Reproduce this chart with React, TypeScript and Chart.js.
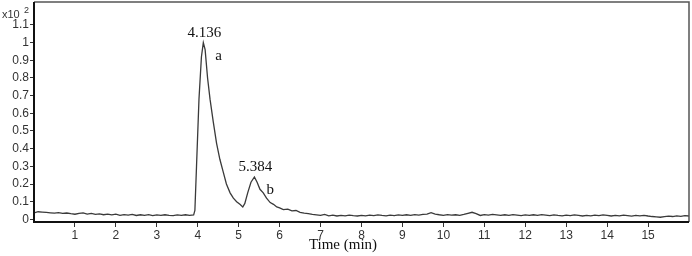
import React, { useEffect, useRef } from "react";
import { Chart, registerables } from "chart.js";

Chart.register(...registerables);

const time: number[] = [
  0.0, 0.1, 0.2, 0.3, 0.4, 0.5, 0.6, 0.7, 0.8, 0.9,
  1.0, 1.1, 1.2, 1.3, 1.4, 1.5, 1.6, 1.7, 1.8, 1.9,
  2.0, 2.1, 2.2, 2.3, 2.4, 2.5, 2.6, 2.7, 2.8, 2.9,
  3.0, 3.1, 3.2, 3.3, 3.4, 3.5, 3.6, 3.7, 3.8, 3.9,
  3.93, 3.97, 4.03, 4.09, 4.136, 4.18, 4.24, 4.3, 4.38, 4.46,
  4.54, 4.62, 4.7, 4.79, 4.87, 4.95, 5.03, 5.1, 5.15, 5.22,
  5.3, 5.384, 5.45, 5.52, 5.6, 5.68, 5.77, 5.85, 5.93, 6.0,
  6.09, 6.2, 6.3, 6.4, 6.5, 6.6, 6.7, 6.8, 6.9, 7.0,
  7.1, 7.2, 7.3, 7.4, 7.5, 7.6, 7.7, 7.8, 7.9, 8.0,
  8.1, 8.2, 8.3, 8.4, 8.5, 8.6, 8.7, 8.8, 8.9, 9.0,
  9.1, 9.2, 9.3, 9.4, 9.5, 9.6, 9.7, 9.8, 9.9, 10.0,
  10.1, 10.2, 10.3, 10.4, 10.5, 10.6, 10.7, 10.8, 10.9, 11.0,
  11.1, 11.2, 11.3, 11.4, 11.5, 11.6, 11.7, 11.8, 11.9, 12.0,
  12.1, 12.2, 12.3, 12.4, 12.5, 12.6, 12.7, 12.8, 12.9, 13.0,
  13.1, 13.2, 13.3, 13.4, 13.5, 13.6, 13.7, 13.8, 13.9, 14.0,
  14.1, 14.2, 14.3, 14.4, 14.5, 14.6, 14.7, 14.8, 14.9, 15.0,
  15.1, 15.2, 15.3, 15.4, 15.5, 15.6, 15.7, 15.8, 15.9, 16.0,
];

const intensity: number[] = [
  0.036, 0.043, 0.041, 0.039, 0.037, 0.035, 0.038, 0.034, 0.036, 0.032,
  0.029, 0.034, 0.037, 0.030, 0.034, 0.028, 0.031, 0.026, 0.030, 0.025,
  0.029, 0.023, 0.027, 0.024, 0.028, 0.022, 0.026, 0.023, 0.027, 0.021,
  0.025, 0.022, 0.026, 0.023, 0.021, 0.025, 0.022, 0.026, 0.023, 0.025,
  0.05, 0.30, 0.68, 0.92, 1.0, 0.96, 0.80, 0.68, 0.55, 0.43,
  0.34, 0.27, 0.20, 0.15, 0.12, 0.10, 0.085, 0.07, 0.09, 0.15,
  0.21, 0.24, 0.21, 0.17, 0.15, 0.12, 0.095, 0.085, 0.07, 0.065,
  0.055, 0.058, 0.048, 0.05, 0.04, 0.035, 0.032, 0.028, 0.025, 0.022,
  0.028, 0.02, 0.024, 0.019, 0.023, 0.02, 0.024, 0.021, 0.019, 0.023,
  0.02, 0.024, 0.021, 0.025, 0.022, 0.02, 0.024, 0.021, 0.025, 0.022,
  0.026, 0.023, 0.027, 0.024, 0.028, 0.03, 0.038, 0.03, 0.026, 0.023,
  0.027, 0.024, 0.026, 0.023, 0.028, 0.034, 0.04, 0.032, 0.022, 0.027,
  0.024, 0.028, 0.025, 0.022, 0.026, 0.023, 0.027, 0.024, 0.021, 0.025,
  0.022, 0.026, 0.023, 0.027, 0.024, 0.021, 0.025, 0.022, 0.02, 0.024,
  0.021, 0.025, 0.022, 0.019, 0.023, 0.02, 0.024, 0.021, 0.025, 0.022,
  0.019, 0.023, 0.02, 0.024, 0.021, 0.018, 0.022, 0.02, 0.023, 0.019,
  0.016, 0.014, 0.012, 0.015, 0.018, 0.016, 0.02, 0.017, 0.021, 0.019,
];

const xTicks: number[] = [1, 2, 3, 4, 5, 6, 7, 8, 9, 10, 11, 12, 13, 14, 15];
const yTicks: number[] = [0, 0.1, 0.2, 0.3, 0.4, 0.5, 0.6, 0.7, 0.8, 0.9, 1, 1.1];

const peakTimes: number[] = [4.136, 5.384];
const peakValues: number[] = [1.0, 0.24];
const peakRtLabels: string[] = ["4.136", "5.384"];
const peakLetters: string[] = ["a", "b"];

const xTitle = "Time (min)";

export default function App() {
  const ref = useRef<HTMLCanvasElement | null>(null);

  useEffect(() => {
    document.body.style.margin = "0";
    const canvas = ref.current;
    if (!canvas) return;

    const overlay = {
      id: "overlay",
      afterDraw(chart: any) {
        const { ctx, chartArea } = chart;
        const xs = chart.scales.x;
        const ys = chart.scales.y;
        ctx.save();
        // frame
        ctx.strokeStyle = "#555";
        ctx.lineWidth = 1.5;
        ctx.beginPath();
        ctx.moveTo(chartArea.left, chartArea.top);
        ctx.lineTo(chartArea.right, chartArea.top);
        ctx.lineTo(chartArea.right, chartArea.bottom);
        ctx.stroke();
        ctx.strokeStyle = "#111";
        ctx.lineWidth = 2;
        ctx.beginPath();
        ctx.moveTo(chartArea.left, chartArea.top);
        ctx.lineTo(chartArea.left, chartArea.bottom);
        ctx.lineTo(chartArea.right, chartArea.bottom);
        ctx.stroke();

        // multiplier label
        ctx.fillStyle = "#333";
        ctx.font = "11px 'Liberation Sans', Arial, sans-serif";
        ctx.textAlign = "left";
        ctx.textBaseline = "middle";
        ctx.fillText("x10", 2, 15);
        ctx.font = "9px 'Liberation Sans', Arial, sans-serif";
        ctx.fillText("2", 24, 11);

        // peak annotations
        ctx.fillStyle = "#111";
        ctx.font = "15px 'Liberation Serif', 'Times New Roman', serif";
        for (let i = 0; i < peakTimes.length; i++) {
          const px = xs.getPixelForValue(peakTimes[i]);
          const py = ys.getPixelForValue(peakValues[i]);
          ctx.textAlign = "center";
          ctx.fillText(peakRtLabels[i], px + 1, py - 10);
          ctx.textAlign = "left";
          ctx.fillText(peakLetters[i], px + 12, py + 13);
        }

        // x title
        ctx.textAlign = "center";
        ctx.font = "15px 'Liberation Serif', 'Times New Roman', serif";
        ctx.fillText(xTitle, 343, 245);
        ctx.restore();
      },
    };

    const chart = new Chart(canvas, {
      type: "line",
      data: {
        datasets: [
          {
            data: time.map((t, i) => ({ x: t, y: intensity[i] })),
            borderColor: "#3a3a3a",
            borderWidth: 1.3,
            pointRadius: 0,
            tension: 0,
            fill: false,
          },
        ],
      },
      options: {
        animation: false,
        responsive: false,
        maintainAspectRatio: false,
        layout: { padding: { top: 2, right: 3, left: 0, bottom: 0 } },
        plugins: {
          legend: { display: false },
          tooltip: { enabled: false },
        },
        scales: {
          x: {
            type: "linear",
            min: 0,
            max: 16,
            afterBuildTicks(scale: any) {
              scale.ticks = xTicks.map((v) => ({ value: v }));
            },
            afterFit(scale: any) {
              scale.height = 34;
              scale.paddingLeft = 0;
              scale.paddingRight = 0;
            },
            grid: {
              display: true,
              drawOnChartArea: false,
              drawTicks: true,
              tickLength: 5,
              color: "#333",
              lineWidth: 1,
            },
            border: { display: false },
            ticks: {
              color: "#333",
              font: { family: "'Liberation Sans', Arial, sans-serif", size: 12 },
              padding: 1,
              maxRotation: 0,
              autoSkip: false,
            },
          },
          y: {
            type: "linear",
            min: -0.015,
            max: 1.23,
            afterBuildTicks(scale: any) {
              scale.ticks = yTicks.map((v) => ({ value: v }));
            },
            afterFit(scale: any) {
              scale.width = 34;
              scale.paddingTop = 0;
              scale.paddingBottom = 0;
            },
            grid: {
              display: true,
              drawOnChartArea: false,
              drawTicks: true,
              tickLength: 4,
              color: "#333",
              lineWidth: 1,
            },
            border: { display: false },
            ticks: {
              color: "#333",
              font: { family: "'Liberation Sans', Arial, sans-serif", size: 12 },
              padding: 1,
              autoSkip: false,
              callback: (v: any) => String(Math.round(Number(v) * 10) / 10),
            },
          },
        },
      },
      plugins: [overlay],
    });

    return () => chart.destroy();
  }, []);

  return (
    <div style={{ width: 692, height: 256 }}>
      <canvas ref={ref} width={692} height={256} style={{ display: "block" }} />
    </div>
  );
}
